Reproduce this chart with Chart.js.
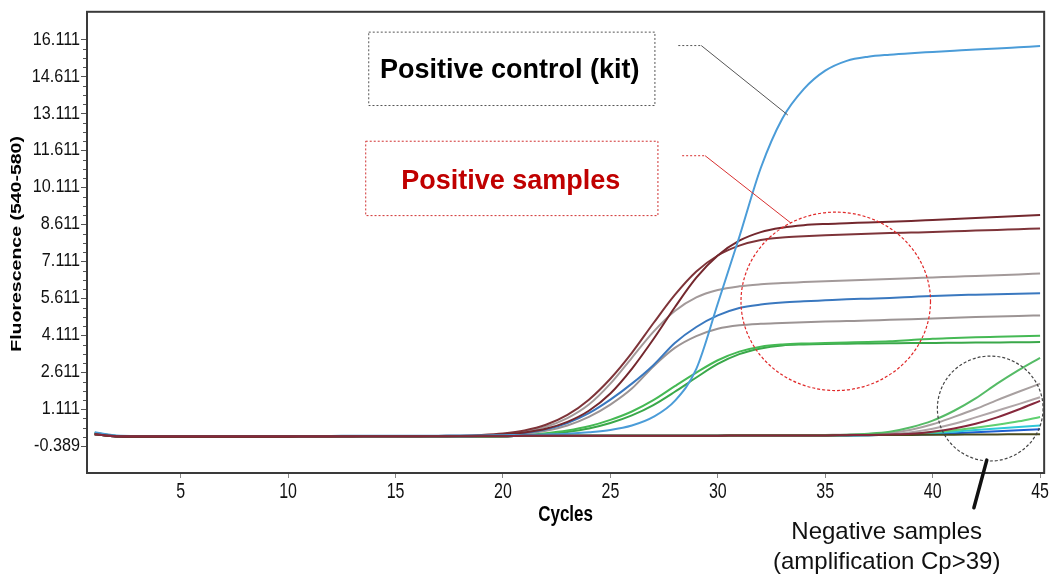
<!DOCTYPE html>
<html><head><meta charset="utf-8">
<style>html,body{margin:0;padding:0;background:#fff;}canvas{display:block;}</style>
<script src="https://cdn.jsdelivr.net/npm/chart.js@4.4.1/dist/chart.umd.min.js"></script>
</head><body>
<canvas id="c" width="1053" height="577" style="width:1053px;height:577px"></canvas>
<script>
// ---------- data ----------
const cycles = [1,2,3,4,5,6,7,8,9,10,11,12,13,14,15,16,17,18,19,20,21,22,23,24,25,26,27,28,29,30,31,32,33,34,35,36,37,38,39,40,41,42,43,44,45];
const xTicks = [5,10,15,20,25,30,35,40,45];
const yTicks = [-0.389,1.111,2.611,4.111,5.611,7.111,8.611,10.111,11.611,13.111,14.611,16.111];
const yMinorStep = 0.375;

const controlKit = [0.18,0.05,0.03,0.03,0.03,0.03,0.03,0.03,0.03,0.03,0.03,0.03,0.04,0.04,0.04,0.04,0.04,
  0.05,0.05,0.06,0.07,0.09,0.12,0.18,0.27,0.45,0.8,1.45,2.75,5.4,8.1,10.9,12.9,14.1,14.85,15.25,15.42,15.5,15.56,15.61,15.66,15.71,15.75,15.8,15.85];
const brownA = [0.12,0.01,0,0,0,0,0,0,0,0,0.01,0.01,0.02,0.02,0.02,0.02,0.03,
  0.04,0.07,0.13,0.25,0.48,0.88,1.5,2.35,3.4,4.6,5.75,6.7,7.35,7.75,7.98,8.08,8.13,8.17,8.2,8.23,8.26,8.28,8.3,8.33,8.36,8.39,8.42,8.45];
const brownB = [0.1,0.01,0,0,0,0,0,0,0,0,0.01,0.01,0.01,0.02,0.02,0.02,0.02,
  0.03,0.05,0.09,0.17,0.32,0.6,1.05,1.75,2.75,3.95,5.25,6.45,7.35,7.95,8.3,8.48,8.58,8.63,8.66,8.69,8.72,8.75,8.79,8.83,8.87,8.91,8.95,8.99];
const grayA = [0.1,0.02,0.01,0.01,0.01,0.01,0.01,0.01,0.01,0.01,0.01,0.02,0.02,0.02,0.02,0.03,0.03,
  0.03,0.05,0.1,0.2,0.4,0.75,1.3,2.15,3.2,4.25,5.1,5.65,5.95,6.1,6.18,6.23,6.27,6.31,6.34,6.37,6.4,6.43,6.46,6.49,6.52,6.55,6.58,6.62];
const grayB = [0.1,0.02,0.01,0.01,0.01,0.01,0.01,0.01,0.01,0.01,0.01,0.02,0.02,0.02,0.02,0.02,0.02,
  0.02,0.03,0.06,0.12,0.24,0.45,0.8,1.3,1.95,2.85,3.6,4.08,4.38,4.52,4.58,4.61,4.64,4.67,4.69,4.71,4.74,4.76,4.79,4.82,4.85,4.87,4.9,4.92];
const blueSample = [0.14,0.02,0.01,0.01,0.01,0.01,0.01,0.01,0.01,0.01,0.01,0.02,0.02,0.02,0.02,0.02,0.02,
  0.02,0.03,0.07,0.15,0.3,0.55,0.95,1.5,2.15,2.9,3.8,4.45,4.92,5.22,5.36,5.44,5.49,5.53,5.57,5.6,5.63,5.67,5.71,5.74,5.76,5.78,5.8,5.82];
const greenA = [0.16,0.03,0.02,0.02,0.02,0.02,0.02,0.02,0.02,0.02,0.02,0.02,0.02,0.02,0.02,0.02,0.02,
  0.02,0.02,0.03,0.07,0.14,0.25,0.42,0.68,1.02,1.48,2.05,2.6,3.1,3.45,3.65,3.74,3.78,3.8,3.82,3.84,3.87,3.92,3.97,4.0,4.03,4.05,4.07,4.09];
const greenB = [0.15,0.03,0.02,0.02,0.02,0.02,0.02,0.02,0.02,0.02,0.02,0.02,0.02,0.02,0.02,0.02,0.02,
  0.02,0.02,0.02,0.05,0.1,0.19,0.33,0.55,0.86,1.28,1.82,2.4,2.95,3.35,3.58,3.7,3.74,3.76,3.77,3.78,3.79,3.8,3.8,3.81,3.82,3.82,3.83,3.84];
const negGreen = [0.12,0.03,0.02,0.02,0.02,0.02,0.02,0.02,0.02,0.02,0.02,0.02,0.02,0.02,0.02,0.02,0.02,0.02,0.02,0.02,
  0.04,0.04,0.04,0.04,0.04,0.04,0.04,0.04,0.04,0.04,0.06,0.06,0.06,0.06,0.06,0.08,0.12,0.2,0.38,0.65,1.05,1.55,2.15,2.7,3.2];
const negGrayA = [0.1,0.02,0.02,0.02,0.02,0.02,0.02,0.02,0.02,0.02,0.02,0.02,0.02,0.02,0.02,0.02,0.02,0.02,0.02,0.02,
  0.04,0.04,0.04,0.04,0.04,0.04,0.04,0.04,0.04,0.04,0.06,0.06,0.06,0.06,0.07,0.08,0.1,0.15,0.28,0.5,0.8,1.12,1.48,1.82,2.15];
const negGrayB = [0.1,0.02,0.02,0.02,0.02,0.02,0.02,0.02,0.02,0.02,0.02,0.02,0.02,0.02,0.02,0.02,0.02,0.02,0.02,0.02,
  0.04,0.04,0.04,0.04,0.04,0.04,0.04,0.04,0.04,0.04,0.06,0.06,0.06,0.06,0.06,0.07,0.08,0.11,0.18,0.32,0.52,0.78,1.05,1.32,1.6];
const negBrown = [0.1,0.02,0.02,0.02,0.02,0.02,0.02,0.02,0.02,0.02,0.02,0.02,0.02,0.02,0.02,0.02,0.02,0.02,0.02,0.02,
  0.04,0.04,0.04,0.04,0.04,0.04,0.04,0.04,0.04,0.04,0.05,0.05,0.05,0.05,0.05,0.06,0.07,0.09,0.12,0.2,0.33,0.52,0.78,1.1,1.45];
const negLightGreen = [0.1,0.02,0.02,0.02,0.02,0.02,0.02,0.02,0.02,0.02,0.02,0.02,0.02,0.02,0.02,0.02,0.02,0.02,0.02,0.02,
  0.04,0.04,0.04,0.04,0.04,0.04,0.04,0.04,0.04,0.04,0.05,0.05,0.05,0.05,0.05,0.06,0.08,0.1,0.12,0.18,0.26,0.36,0.48,0.62,0.8];
const negCyan = [0.1,0.02,0.02,0.02,0.02,0.02,0.02,0.02,0.02,0.02,0.02,0.02,0.02,0.02,0.02,0.02,0.02,0.02,0.02,0.02,
  0.04,0.04,0.04,0.04,0.04,0.04,0.04,0.04,0.04,0.04,0.05,0.05,0.05,0.05,0.05,0.05,0.06,0.08,0.1,0.14,0.2,0.27,0.33,0.39,0.45];
const negBlue = [0.1,0.02,0.02,0.02,0.02,0.02,0.02,0.02,0.02,0.02,0.02,0.02,0.02,0.02,0.02,0.02,0.02,0.02,0.02,0.02,
  0.04,0.04,0.04,0.04,0.04,0.04,0.04,0.04,0.04,0.04,0.05,0.05,0.05,0.05,0.05,0.05,0.06,0.07,0.08,0.1,0.14,0.18,0.22,0.26,0.3];
const negOlive = [0.1,0.02,0.02,0.02,0.02,0.02,0.02,0.02,0.02,0.02,0.02,0.02,0.02,0.02,0.02,0.02,0.02,0.02,0.02,0.02,
  0.04,0.04,0.04,0.04,0.04,0.04,0.04,0.04,0.04,0.04,0.05,0.05,0.05,0.05,0.05,0.06,0.06,0.07,0.07,0.08,0.08,0.09,0.09,0.1,0.1];

// ---------- styles (drawn top-most first) ----------
const seriesList = [
  {label:'Negative sample 4', values:negBrown, color:'#86283c'},
  {label:'Negative sample 8', values:negOlive, color:'#4a4a1c'},
  {label:'Positive control (kit)', values:controlKit, color:'#4b9cd8'},
  {label:'Positive sample 2', values:brownB, color:'#74282e'},
  {label:'Positive sample 1', values:brownA, color:'#7e3439'},
  {label:'Positive sample 3', values:grayA, color:'#a39a9a'},
  {label:'Positive sample 5', values:blueSample, color:'#3a78bf'},
  {label:'Positive sample 4', values:grayB, color:'#9c9494'},
  {label:'Positive sample 6', values:greenA, color:'#45b954'},
  {label:'Positive sample 7', values:greenB, color:'#3aa84a'},
  {label:'Negative sample 1', values:negGreen, color:'#55bb66'},
  {label:'Negative sample 2', values:negGrayA, color:'#a8a0a0'},
  {label:'Negative sample 3', values:negGrayB, color:'#b0a6a8'},
  {label:'Negative sample 5', values:negLightGreen, color:'#5fd070'},
  {label:'Negative sample 6', values:negCyan, color:'#2ec8d8'},
  {label:'Negative sample 7', values:negBlue, color:'#1f5fd0'}
];

// annotation geometry in data units (cycle, fluorescence)
const notes = {
  kitBox: {x0:13.73, x1:27.05, y0:16.435, y1:13.457},
  kitText: {x:20.32, y:14.54, text:'Positive control (kit)'},
  kitLeader: [[28.16,15.87],[29.23,15.87],[33.26,13.05]],
  posBox: {x0:13.59, x1:27.19, y0:12.008, y1:8.989},
  posText: {x:20.36, y:10.035, text:'Positive samples'},
  posLeader: [[28.34,11.40],[29.41,11.40],[33.40,8.67]],
  posCircle: {cx:35.49, cy:5.49, rx:4.41, ry:3.62},
  negCircle: {cx:42.68, cy:1.14, rx:2.46, ry:2.13},
  negPointer: [[42.52,-0.953],[41.92,-2.885]],
  negText1: {x:37.86, y:-4.17, text:'Negative samples'},
  negText2: {x:37.86, y:-5.38, text:'(amplification Cp>39)'}
};

const FONT = "'Liberation Sans', Arial, sans-serif";
const XT = {size:16, pad:4, tick:5, stretch:1.35};
const YT = {size:18, pad:1, tick:6, squeeze:0.9};
const XTITLE = {size:17, padBottom:52, stretch:1.25};
const YTITLE = {size:15, padTop:8, stretch:1.3};

const stretchPlugin = {
  id:'stretch',
  beforeDraw(chart){
    const xs = chart.scales.x, ys = chart.scales.y;
    if (!xs.__wrapped){
      xs.__wrapped = true;
      const dl = xs.drawLabels, dt = xs.drawTitle;
      xs.drawLabels = function(a){
        const c = this.ctx, y0 = this.top + XT.tick + XT.pad + XT.size*1.2/2;
        c.save(); c.translate(0,y0); c.scale(1,XT.stretch); c.translate(0,-y0); dl.call(this,a); c.restore();
      };
      xs.drawTitle = function(){
        const c = this.ctx, y0 = this.bottom - (XTITLE.padBottom + XTITLE.size*1.2/2);
        c.save(); c.translate(0,y0); c.scale(1,XTITLE.stretch); c.translate(0,-y0); dt.call(this); c.restore();
      };
    }
    if (!ys.__wrapped){
      ys.__wrapped = true;
      const dl = ys.drawLabels, dt = ys.drawTitle;
      ys.drawLabels = function(a){
        const c = this.ctx, x0 = this.right - YT.tick - YT.pad;
        c.save(); c.translate(x0,0); c.scale(YT.squeeze,1); c.translate(-x0,0); dl.call(this,a); c.restore();
      };
      ys.drawTitle = function(){
        const c = this.ctx, y0 = (this.top + this.bottom)/2 - 5;
        c.save(); c.translate(0,y0); c.scale(1,YTITLE.stretch); c.translate(0,-y0); dt.call(this); c.restore();
      };
    }
  }
};

const framePlugin = {
  id:'frame',
  afterDraw(chart){
    const {ctx, chartArea:a} = chart; const ys = chart.scales.y;
    ctx.save();
    ctx.strokeStyle = '#555'; ctx.lineWidth = 1;
    const first = yTicks[0], last = yTicks[yTicks.length-1];
    for (let k = 0; first + k*yMinorStep <= last + 1e-6; k++){
      if (k % 4 === 0) continue;
      const py = Math.round(ys.getPixelForValue(first + k*yMinorStep)) + 0.5;
      ctx.beginPath(); ctx.moveTo(a.left-4, py); ctx.lineTo(a.left, py); ctx.stroke();
    }
    ctx.strokeStyle = '#3a3a3a'; ctx.lineWidth = 2;
    ctx.strokeRect(a.left, a.top, a.right-a.left, a.bottom-a.top);
    ctx.restore();
  }
};

const annotationPlugin = {
  id:'notes',
  afterDraw(chart){
    const ctx = chart.ctx, X = v => chart.scales.x.getPixelForValue(v), Y = v => chart.scales.y.getPixelForValue(v);
    ctx.save();
    const box = (b, color) => {
      ctx.setLineDash([2,2]); ctx.strokeStyle = color; ctx.lineWidth = 1;
      ctx.strokeRect(X(b.x0)+0.5, Y(b.y0)+0.5, X(b.x1)-X(b.x0), Y(b.y1)-Y(b.y0));
    };
    const leader = (pts, color) => {
      ctx.strokeStyle = color; ctx.lineWidth = 1;
      ctx.setLineDash([2,2]); ctx.beginPath(); ctx.moveTo(X(pts[0][0]),Y(pts[0][1])); ctx.lineTo(X(pts[1][0]),Y(pts[1][1])); ctx.stroke();
      ctx.setLineDash([]); ctx.beginPath(); ctx.moveTo(X(pts[1][0]),Y(pts[1][1])); ctx.lineTo(X(pts[2][0]),Y(pts[2][1])); ctx.stroke();
    };
    const ellipse = (e, color) => {
      ctx.setLineDash([3,2]); ctx.strokeStyle = color; ctx.lineWidth = 1.2;
      ctx.beginPath();
      ctx.ellipse(X(e.cx), Y(e.cy), Math.abs(X(e.cx+e.rx)-X(e.cx)), Math.abs(Y(e.cy+e.ry)-Y(e.cy)), 0, 0, Math.PI*2);
      ctx.stroke();
    };
    const text = (t, font, color) => {
      ctx.setLineDash([]); ctx.font = font; ctx.fillStyle = color; ctx.textAlign = 'center'; ctx.textBaseline = 'alphabetic';
      ctx.fillText(t.text, X(t.x), Y(t.y));
    };
    box(notes.kitBox, '#555');
    text(notes.kitText, 'bold 27px ' + FONT, '#000');
    leader(notes.kitLeader, '#555');
    box(notes.posBox, '#d03030');
    text(notes.posText, 'bold 27px ' + FONT, '#c00000');
    leader(notes.posLeader, '#d83030');
    ellipse(notes.posCircle, '#e02828');
    ellipse(notes.negCircle, '#444');
    ctx.setLineDash([]); ctx.strokeStyle = '#111'; ctx.lineWidth = 3.5; ctx.lineCap = 'round';
    ctx.beginPath(); ctx.moveTo(X(notes.negPointer[0][0]), Y(notes.negPointer[0][1])); ctx.lineTo(X(notes.negPointer[1][0]), Y(notes.negPointer[1][1])); ctx.stroke();
    text(notes.negText1, '24px ' + FONT, '#111');
    text(notes.negText2, '24px ' + FONT, '#111');
    ctx.restore();
  }
};

new Chart(document.getElementById('c').getContext('2d'), {
  type:'line',
  data:{
    datasets: seriesList.map(s => ({
      label: s.label,
      data: s.values.map((v,i) => ({x: cycles[i], y: v})),
      borderColor: s.color, backgroundColor: s.color,
      borderWidth: 2, pointRadius: 0, fill: false,
      cubicInterpolationMode: 'monotone'
    }))
  },
  options:{
    responsive:false, animation:false, devicePixelRatio:1,
    layout:{padding:{left:0, right:6, top:8, bottom:0}},
    plugins:{legend:{display:false}, tooltip:{enabled:false}},
    scales:{
      x:{
        type:'linear', min:0.64, max:45.19,
        afterBuildTicks: s => { s.ticks = xTicks.map(v => ({value:v})); },
        afterFit: s => { s.height = 104; },
        grid:{display:true, drawOnChartArea:false, drawTicks:true, tickLength:XT.tick, tickColor:'#888', tickWidth:1},
        border:{display:false},
        ticks:{padding:XT.pad, color:'#111', font:{family:FONT, size:XT.size}, maxRotation:0, autoSkip:false, callback: v => String(v)},
        title:{display:true, text:'Cycles', color:'#000', font:{family:FONT, size:XTITLE.size, weight:'bold'}, padding:{top:0, bottom:XTITLE.padBottom}}
      },
      y:{
        type:'linear', min:-1.476, max:17.24,
        afterBuildTicks: s => { s.ticks = yTicks.map(v => ({value:v})); },
        afterFit: s => { s.width = 87; },
        grid:{display:true, drawOnChartArea:false, drawTicks:true, tickLength:YT.tick, tickColor:'#555', tickWidth:1},
        border:{display:false},
        ticks:{padding:YT.pad, color:'#111', font:{family:FONT, size:YT.size}, autoSkip:false, callback: v => v.toFixed(3)},
        title:{display:true, text:'Fluorescence (540-580)', color:'#000', font:{family:FONT, size:YTITLE.size, weight:'bold'}, padding:{top:YTITLE.padTop, bottom:0}}
      }
    }
  },
  plugins:[stretchPlugin, framePlugin, annotationPlugin]
});
</script>
</body></html>
